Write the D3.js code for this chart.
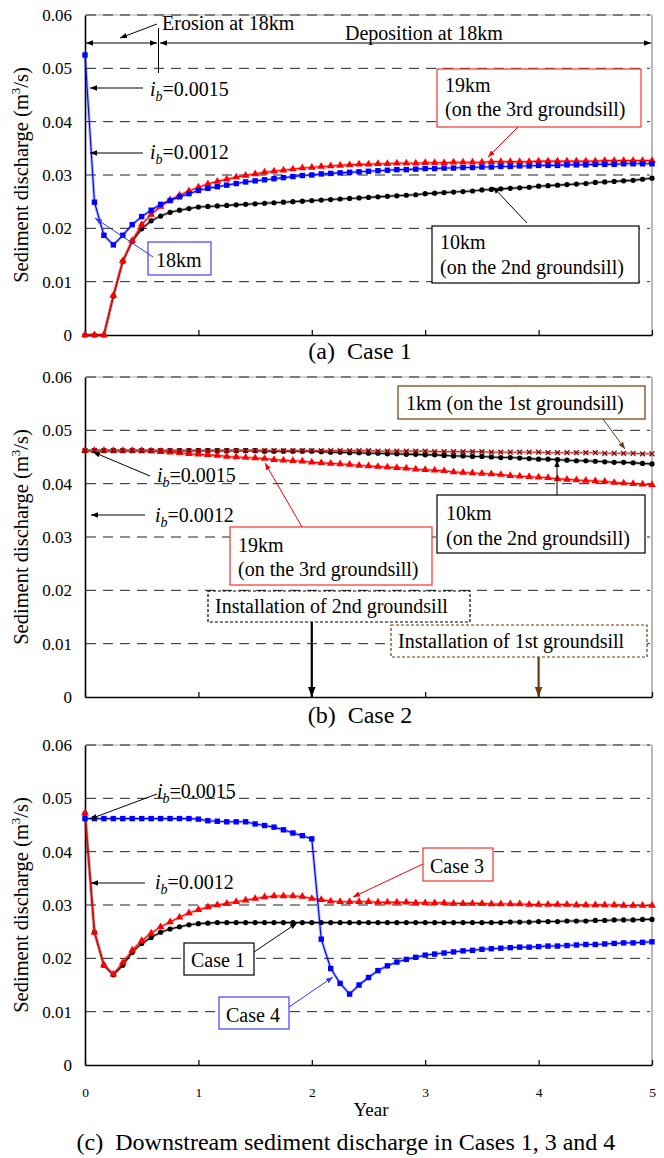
<!DOCTYPE html>
<html><head><meta charset="utf-8">
<script src="https://cdn.jsdelivr.net/npm/d3@7"></script>
<style>
body{margin:0;background:#fff}
svg{display:block}
</style>
</head><body>
<svg id="chart" width="664" height="1158"></svg>
<script>
// ---------- DATA (monthly values, month 0..60 = year 0..5) ----------
const months = d3.range(0, 61);
const xTickMonths = [0, 12, 24, 36, 48, 60];
const xTickLabels = ["0", "1", "2", "3", "4", "5"];
const yTicks = [0, 0.01, 0.02, 0.03, 0.04, 0.05, 0.06];
const yTickLabels = ["0", "0.01", "0.02", "0.03", "0.04", "0.05", "0.06"];

// (a) Case 1
const caseA_18km = [0.0525,0.0249,0.0187,0.0169,0.0187,0.0207,0.0222,0.0234,0.0245,0.0252,0.0259,0.0265,
  0.0271,0.0275,0.0278,0.0281,0.0284,0.0287,0.0289,0.0291,0.0293,0.0295,0.0297,0.0299,
  0.0300,0.0302,0.0303,0.0304,0.0305,0.0306,0.0307,0.0308,0.0309,0.0310,0.0310,0.0311,
  0.0312,0.0312,0.0313,0.0313,0.0314,0.0314,0.0315,0.0315,0.0316,0.0316,0.0317,0.0317,
  0.0318,0.0318,0.0318,0.0319,0.0319,0.0319,0.0320,0.0320,0.0320,0.0321,0.0321,0.0321,0.0321];
const caseA_19km = [0,0,0,0.0074,0.0139,0.0177,0.0207,0.0226,0.0241,0.0253,0.0262,0.0270,
  0.0277,0.0283,0.0288,0.0292,0.0296,0.0299,0.0302,0.0305,0.0307,0.0309,0.0311,0.0313,
  0.0314,0.0316,0.0317,0.0318,0.0319,0.0320,0.0320,0.0321,0.0321,0.0322,0.0322,0.0322,
  0.0323,0.0323,0.0323,0.0324,0.0324,0.0324,0.0324,0.0325,0.0325,0.0325,0.0325,0.0325,
  0.0326,0.0326,0.0326,0.0326,0.0326,0.0326,0.0326,0.0327,0.0327,0.0327,0.0327,0.0327,0.0327];
const caseA_10km = [0,0,0,0.0073,0.0138,0.0176,0.0199,0.0214,0.0223,0.0230,0.0234,0.0237,
  0.0240,0.0241,0.0242,0.0243,0.0244,0.0245,0.0246,0.0247,0.0248,0.0249,0.0250,0.0251,
  0.0252,0.0253,0.0254,0.0255,0.0256,0.0257,0.0258,0.0259,0.0260,0.0261,0.0262,0.0263,
  0.0265,0.0266,0.0267,0.0268,0.0269,0.0270,0.0272,0.0273,0.0274,0.0275,0.0276,0.0277,
  0.0279,0.0280,0.0281,0.0282,0.0283,0.0284,0.0286,0.0287,0.0288,0.0289,0.0290,0.0292,0.0294];

// (b) Case 2
const caseB_10km = [0.0462,0.0462,0.0462,0.0462,0.0462,0.0462,0.0462,0.0462,0.0462,0.0462,0.0462,0.0462,
  0.0462,0.0462,0.0462,0.0462,0.0462,0.0462,0.0462,0.0461,0.0461,0.0461,0.0461,0.0461,
  0.0461,0.0460,0.0459,0.0459,0.0458,0.0458,0.0457,0.0457,0.0456,0.0456,0.0455,0.0455,
  0.0454,0.0454,0.0453,0.0452,0.0452,0.0451,0.0451,0.0450,0.0449,0.0449,0.0448,0.0447,
  0.0446,0.0446,0.0445,0.0444,0.0443,0.0443,0.0442,0.0441,0.0440,0.0440,0.0439,0.0438,0.0437];
const caseB_1km = [0.0462,0.0462,0.0462,0.0462,0.0462,0.0462,0.0462,0.0462,0.0462,0.0462,0.0462,0.0462,
  0.0462,0.0462,0.0462,0.0462,0.0462,0.0462,0.0462,0.0462,0.0462,0.0462,0.0462,0.0462,
  0.0462,0.0462,0.0462,0.0462,0.0462,0.0462,0.0462,0.0461,0.0461,0.0461,0.0461,0.0461,
  0.0461,0.0460,0.0460,0.0460,0.0460,0.0460,0.0460,0.0459,0.0459,0.0459,0.0459,0.0459,
  0.0459,0.0458,0.0458,0.0458,0.0458,0.0458,0.0458,0.0457,0.0457,0.0457,0.0457,0.0456,0.0456];
const caseB_19km = [0.0462,0.0462,0.0462,0.0462,0.0462,0.0462,0.0462,0.0461,0.0460,0.0459,0.0458,0.0456,
  0.0455,0.0454,0.0453,0.0451,0.0450,0.0449,0.0448,0.0447,0.0445,0.0444,0.0443,0.0442,
  0.0440,0.0439,0.0438,0.0437,0.0436,0.0434,0.0433,0.0432,0.0431,0.0430,0.0429,0.0427,
  0.0426,0.0425,0.0424,0.0422,0.0421,0.0420,0.0419,0.0418,0.0417,0.0415,0.0414,0.0413,
  0.0412,0.0411,0.0409,0.0408,0.0407,0.0406,0.0405,0.0404,0.0402,0.0401,0.0400,0.0399,0.0398];

// (c) Cases 1, 3, 4
const caseC_case1 = [0.0472,0.0249,0.0187,0.0169,0.0187,0.0211,0.0228,0.0239,0.0249,0.0255,0.0259,0.0263,
  0.0265,0.0266,0.0267,0.0267,0.0267,0.0267,0.0267,0.0267,0.0267,0.0267,0.0267,0.0267,
  0.0267,0.0267,0.0267,0.0267,0.0267,0.0267,0.0267,0.0267,0.0267,0.0267,0.0267,0.0267,
  0.0267,0.0267,0.0267,0.0267,0.0267,0.0267,0.0267,0.0267,0.0267,0.0268,0.0268,0.0268,
  0.0269,0.0269,0.0269,0.0270,0.0270,0.0270,0.0271,0.0271,0.0272,0.0272,0.0272,0.0273,0.0273];
const caseC_case3 = [0.0472,0.0249,0.0187,0.0170,0.0192,0.0215,0.0233,0.0247,0.0259,0.0268,0.0277,0.0285,
  0.0291,0.0296,0.0300,0.0303,0.0306,0.0309,0.0312,0.0315,0.0317,0.0317,0.0317,0.0316,
  0.0312,0.0310,0.0307,0.0306,0.0306,0.0306,0.0306,0.0305,0.0305,0.0305,0.0305,0.0304,
  0.0304,0.0304,0.0304,0.0303,0.0303,0.0303,0.0303,0.0302,0.0302,0.0302,0.0302,0.0301,
  0.0301,0.0301,0.0301,0.0301,0.0300,0.0300,0.0300,0.0300,0.0300,0.0299,0.0299,0.0299,0.0299];
const caseC_case4 = [0.0462,0.0462,0.0462,0.0462,0.0462,0.0462,0.0462,0.0462,0.0462,0.0462,0.0462,0.0462,
  0.0461,0.0458,0.0457,0.0456,0.0456,0.0456,0.0452,0.0449,0.0446,0.0441,0.0435,0.0430,
  0.0424,0.0236,0.0181,0.0153,0.0133,0.0150,0.0164,0.0177,0.0186,0.0193,0.0198,0.0202,
  0.0206,0.0208,0.0210,0.0212,0.0214,0.0215,0.0217,0.0218,0.0219,0.0220,0.0221,0.0221,
  0.0222,0.0223,0.0223,0.0224,0.0225,0.0226,0.0226,0.0227,0.0228,0.0229,0.0229,0.0230,0.0231];

// ---------- DRAWING ----------
const FAM = "font-family:Tinos;";
const st = (size, extra) => `${FAM}font-size:${size}px;${extra || ""}`;
const FONT_ANN = 20;
const svg = d3.select("#chart");
const defs = svg.append("defs");
function arrowMarker(id, color, size) {
  defs.append("marker").attr("id", id)
    .attr("viewBox", "0 0 10 10").attr("refX", 10).attr("refY", 5)
    .attr("markerWidth", size).attr("markerHeight", size)
    .attr("markerUnits", "userSpaceOnUse")
    .attr("orient", "auto-start-reverse")
    .append("path").attr("d", "M0,1.2L10,5L0,8.8Z").attr("fill", color);
}
arrowMarker("ak", "#000", 7);
arrowMarker("ar", "#ff0000", 7);
arrowMarker("ab", "#3030ff", 7);
arrowMarker("an", "#6b3a10", 7);
arrowMarker("akB", "#000", 10);
arrowMarker("anB", "#6b3a10", 10);

const x = d3.scaleLinear().domain([0, 60]).range([85, 652]);

// left-aligned text converted to a centred anchor (measured)
function centre(sel, x0, align) {
  const len = sel.node().getComputedTextLength();
  const cx = align === "end" ? x0 - len / 2 : x0 + len / 2;
  sel.attr("x", cx).attr("style", sel.attr("style").replace(/text-anchor:[a-z]+/, "text-anchor:middle"));
}
function T(x0, y0, size, str, anchor) {
  const t = svg.append("text").attr("x", x0).attr("y", y0)
    .attr("style", st(size, `text-anchor:${anchor || "start"};fill:#000`)).text(str);
  if (!anchor || anchor === "start") centre(t, x0, "start");
  return t;
}
function line(x1, y1, x2, y2, color, w, mEnd, mStart, dash) {
  const l = svg.append("line").attr("x1", x1).attr("y1", y1).attr("x2", x2).attr("y2", y2)
    .attr("stroke", color).attr("stroke-width", w || 1);
  if (mEnd) l.attr("marker-end", `url(#${mEnd})`);
  if (mStart) l.attr("marker-start", `url(#${mStart})`);
  if (dash) l.attr("stroke-dasharray", dash);
  return l;
}
function box(x0, y0, x1, y1, color, dash) {
  const r = svg.append("rect").attr("x", x0).attr("y", y0).attr("width", x1 - x0).attr("height", y1 - y0)
    .attr("fill", "#fff").attr("stroke", color).attr("stroke-width", 1.2);
  if (dash) r.attr("stroke-dasharray", dash);
}
function ib(x0, y0, val) {
  const t = svg.append("text").attr("x", x0).attr("y", y0)
    .attr("style", st(FONT_ANN, "text-anchor:start;fill:#000"));
  t.append("tspan").attr("style", st(FONT_ANN, "font-style:italic")).text("i");
  t.append("tspan").attr("style", st(14, "font-style:italic")).attr("dy", 5).text("b");
  t.append("tspan").attr("style", st(FONT_ANN)).attr("dy", -5).text("=" + val);
  centre(t, x0, "start");
}

function panel(top, bottom, showXLabels, series) {
  const y = d3.scaleLinear().domain([0, 0.06]).range([bottom, top]);
  svg.append("line").attr("x1", 85).attr("x2", 652).attr("y1", top).attr("y2", top)
    .attr("stroke", "#c8c8c8").attr("stroke-width", 1.5);
  svg.append("line").attr("x1", 652).attr("x2", 652).attr("y1", top).attr("y2", bottom)
    .attr("stroke", "#b8b8b8").attr("stroke-width", 2);
  svg.append("g").selectAll("line").data(yTicks.slice(1)).join("line")
    .attr("x1", 86).attr("x2", 650).attr("y1", d => y(d)).attr("y2", d => y(d))
    .attr("stroke", "#222").attr("stroke-width", 1).attr("stroke-dasharray", "10,7");
  const gy = svg.append("g").attr("transform", "translate(85,0)")
    .call(d3.axisLeft(y).tickValues(yTicks).tickFormat((d, i) => yTickLabels[i]).tickSize(0).tickPadding(13));
  gy.attr("font-family", null).attr("font-size", null).attr("text-anchor", null);
  gy.select(".domain").attr("stroke", "#000").attr("stroke-width", 1.6);
  gy.selectAll("text").attr("style", st(17, "text-anchor:end;fill:#000"))
    .each(function () { centre(d3.select(this), -13, "end"); });
  const gx = svg.append("g").attr("transform", `translate(0,${bottom})`)
    .call(d3.axisBottom(x).tickValues(xTickMonths)
      .tickFormat((d, i) => showXLabels ? xTickLabels[i] : "")
      .tickSize(-5).tickSizeOuter(0).tickPadding(22));
  gx.attr("font-family", null).attr("font-size", null);
  gx.select(".domain").attr("stroke", "#000").attr("stroke-width", 1.6);
  gx.selectAll(".tick line").attr("stroke", "#000").attr("stroke-width", 1.2);
  gx.selectAll("text").attr("style", st(13.5, "text-anchor:middle;fill:#000"));
  const cy = (top + bottom) / 2;
  const yl = svg.append("text").attr("transform", `translate(28,${cy}) rotate(-90)`)
    .attr("style", st(20.5, "text-anchor:middle;fill:#000"));
  yl.append("tspan").attr("style", st(20.5)).text("Sediment discharge (m");
  yl.append("tspan").attr("style", st(13)).attr("dy", -8).text("3");
  yl.append("tspan").attr("style", st(20.5)).attr("dy", 8).text("/s)");
  series.forEach(s => {
    const gen = d3.line().x((d, i) => x(months[i])).y(d => y(d));
    svg.append("path").attr("d", gen(s.values)).attr("fill", "none")
      .attr("stroke", s.color).attr("stroke-opacity", 0.3).attr("stroke-width", 3);
    svg.append("path").attr("d", gen(s.values)).attr("fill", "none")
      .attr("stroke", s.color).attr("stroke-width", 1.1);
    const pts = svg.append("g");
    s.values.forEach((v, i) => {
      const px = x(months[i]), py = y(v);
      if (s.shape === "square") {
        pts.append("rect").attr("x", px - 2.7).attr("y", py - 2.7).attr("width", 5.4).attr("height", 5.4).attr("fill", s.color);
      } else if (s.shape === "triangle") {
        pts.append("path").attr("d", d3.symbol(d3.symbolTriangle, 26)()).attr("transform", `translate(${px},${py})`).attr("fill", s.color);
      } else if (s.shape === "circle") {
        pts.append("circle").attr("cx", px).attr("cy", py).attr("r", 2.6).attr("fill", s.color);
      } else if (s.shape === "cross") {
        pts.append("path").attr("d", `M${px-2.4},${py-2.4}L${px+2.4},${py+2.4}M${px-2.4},${py+2.4}L${px+2.4},${py-2.4}`)
          .attr("stroke", s.mcolor).attr("stroke-width", 1.3);
      }
    });
  });
  return y;
}

// ---- Panel (a)
panel(15, 335, false, [
  {values: caseA_10km, color: "#000", shape: "circle"},
  {values: caseA_19km, color: "#ff0000", shape: "triangle"},
  {values: caseA_18km, color: "#0000ff", shape: "square"}
]);
line(86, 43, 157, 43, "#000", 1, "ak", "ak");
line(160, 43, 651, 43, "#000", 1, "ak", "ak");
line(158.5, 28, 158.5, 73, "#000", 1);
line(157, 24, 120, 38, "#000", 1, "ak");
T(162, 30, FONT_ANN, "Erosion at 18km");
T(345, 40, FONT_ANN, "Deposition at 18km");
line(143, 88, 90, 88, "#000", 1, "ak");
ib(150, 96, "0.0015");
line(143, 153, 90, 153, "#000", 1, "ak");
ib(150, 159, "0.0012");
box(437, 69, 641, 127, "#ff3030");
T(445, 92, FONT_ANN, "19km");
T(445, 116, FONT_ANN, "(on the 3rd groundsill)");
line(518, 127, 488, 157, "#ff0000", 1, "ar");
box(148, 242, 211, 275, "#4040ff");
T(156, 267, FONT_ANN, "18km");
line(153, 257, 95, 218, "#3030ff", 1, "ab");
box(432, 226, 639, 283, "#000");
T(440, 249, FONT_ANN, "10km");
T(440, 274, FONT_ANN, "(on the 2nd groundsill)");
line(527, 223, 493, 187, "#000", 1, "ak");
T(360, 359, 24, "(a)\u00a0\u00a0Case 1", "middle");

// ---- Panel (b)
panel(377, 697, false, [
  {values: caseB_10km, color: "#000", shape: "circle"},
  {values: caseB_19km, color: "#ff0000", shape: "triangle"},
  {values: caseB_1km, color: "#b04040", mcolor: "#8b0000", shape: "cross"}
]);
line(150, 476, 93, 452, "#000", 1, "ak");
ib(157, 482, "0.0015");
line(145, 515, 91, 515, "#000", 1, "ak");
ib(155, 522, "0.0012");
box(230, 527, 432, 585, "#ff3030");
T(238, 552, FONT_ANN, "19km");
T(238, 576, FONT_ANN, "(on the 3rd groundsill)");
line(302, 527, 265, 463, "#ff0000", 1, "ar");
box(437, 495, 645, 553, "#000");
T(446, 520, FONT_ANN, "10km");
T(446, 545, FONT_ANN, "(on the 2nd groundsill)");
line(557, 495, 557, 460, "#000", 1, "ak");
box(398, 386, 645, 419, "#6b3a10");
T(406, 410, FONT_ANN, "1km (on the 1st groundsill)");
line(603, 419, 625, 449, "#6b3a10", 1, "an");
box(208, 591, 470, 622, "#000", "3,2");
T(215, 613, FONT_ANN, "Installation of 2nd groundsill");
line(x(24), 622, x(24), 697, "#000", 2.2, "akB");
box(391, 625, 647, 657, "#6b3a10", "3,2");
T(398, 648, FONT_ANN, "Installation of 1st groundsill");
line(x(48), 657, x(48), 697, "#6b3a10", 2.2, "anB");
T(360, 723, 24, "(b)\u00a0\u00a0Case 2", "middle");

// ---- Panel (c)
panel(745, 1065, true, [
  {values: caseC_case1, color: "#000", shape: "circle"},
  {values: caseC_case3, color: "#ff0000", shape: "triangle"},
  {values: caseC_case4, color: "#0000ff", shape: "square"}
]);
line(157, 794, 90, 819, "#000", 1, "ak");
ib(157, 798, "0.0015");
line(145, 883, 91, 883, "#000", 1, "ak");
ib(155, 889, "0.0012");
box(423, 848, 493, 881, "#ff3030");
T(430, 873, FONT_ANN, "Case 3");
line(423, 864, 353, 897, "#ff0000", 1, "ar");
box(184, 943, 254, 975, "#000");
T(191, 967, FONT_ANN, "Case 1");
line(254, 952, 297, 923, "#000", 1, "ak");
box(219, 997, 289, 1029, "#4040ff");
T(226, 1022, FONT_ANN, "Case 4");
line(289, 1007, 333, 977, "#3030ff", 1, "ab");
T(371, 1116, 19, "Year", "middle");
T(346, 1150, 24, "(c)\u00a0\u00a0Downstream sediment discharge in Cases 1, 3 and 4", "middle");
</script>
</body></html>
